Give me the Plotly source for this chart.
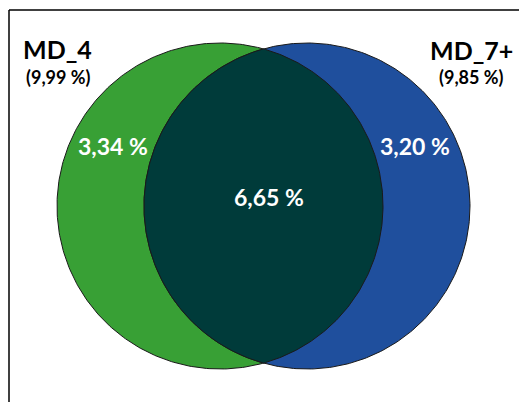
import numpy as np
import plotly.graph_objects as go

# ---- data ----
set_names = ["MD_4", "MD_7+"]
set_totals = ["(9,99 %)", "(9,85 %)"]
only_values = ["3,34 %", "3,20 %"]
overlap_value = "6,65 %"

# ---- styling / geometry (window-pixel space) ----
W, H = 519, 402
R = 163
centers = [(220, 206), (307, 206)]
fills = ["#38A035", "#1F4F9D"]
lens_fill = "#003B3A"
outline = "#1a1a1a"
FONT = "Lato"

def circle_pts(cx, cy, r, n=400):
    t = np.linspace(0, 2 * np.pi, n)
    return cx + r * np.cos(t), cy + r * np.sin(t)

fig = go.Figure()
for (cx, cy), col in zip(centers, fills):
    x, y = circle_pts(cx, cy, R)
    fig.add_trace(go.Scatter(x=x, y=y, mode="lines", fill="toself",
                             fillcolor=col, line=dict(color=outline, width=1),
                             hoverinfo="skip", showlegend=False))

# lens (intersection)
(x1, y1), (x2, y2) = centers
d = x2 - x1
h = np.sqrt(R**2 - (d / 2) ** 2)
a = np.arctan2(h, d / 2)
tl = np.linspace(np.pi - a, np.pi + a, 200)
tr = np.linspace(-a, a, 200)
lx = np.concatenate([x2 + R * np.cos(tl), x1 + R * np.cos(tr)])
ly = np.concatenate([y2 + R * np.sin(tl), y1 + R * np.sin(tr)])
fig.add_trace(go.Scatter(x=lx, y=ly, mode="lines", fill="toself",
                         fillcolor=lens_fill, line=dict(color=outline, width=1),
                         hoverinfo="skip", showlegend=False))

ann = []
name_pos = [(57, 49), (471, 50)]
total_pos = [(58, 77), (471, 77)]
only_pos = [(113, 146), (415, 146)]
for i in range(2):
    ann.append(dict(x=name_pos[i][0], y=name_pos[i][1], text="<b>%s</b>" % set_names[i],
                    showarrow=False, font=dict(family=FONT, size=25, color="black")))
    ann.append(dict(x=total_pos[i][0], y=total_pos[i][1], text="<b>%s</b>" % set_totals[i],
                    showarrow=False, font=dict(family=FONT, size=18, color="black")))
    ann.append(dict(x=only_pos[i][0], y=only_pos[i][1], text="<b>%s</b>" % only_values[i],
                    showarrow=False, font=dict(family=FONT, size=23, color="white")))
ann.append(dict(x=269, y=197, text="<b>%s</b>" % overlap_value, showarrow=False,
                font=dict(family=FONT, size=23, color="white")))

shapes = [
    dict(type="line", x0=9, y0=10, x1=W + 5, y1=10, line=dict(color="black", width=1.5)),
    dict(type="line", x0=9, y0=10, x1=9, y1=H + 5, line=dict(color="black", width=1.5)),
]

fig.update_layout(
    width=W, height=H, margin=dict(l=0, r=0, t=0, b=0),
    paper_bgcolor="white", plot_bgcolor="white",
    xaxis=dict(range=[0, W], visible=False, fixedrange=True),
    yaxis=dict(range=[H, 0], visible=False, fixedrange=True),
    annotations=ann, shapes=shapes,
)
fig.write_html(
    "out.html",
    config={"displayModeBar": False},
    post_script="document.body.style.margin='0';document.body.style.overflow='hidden';",
)
